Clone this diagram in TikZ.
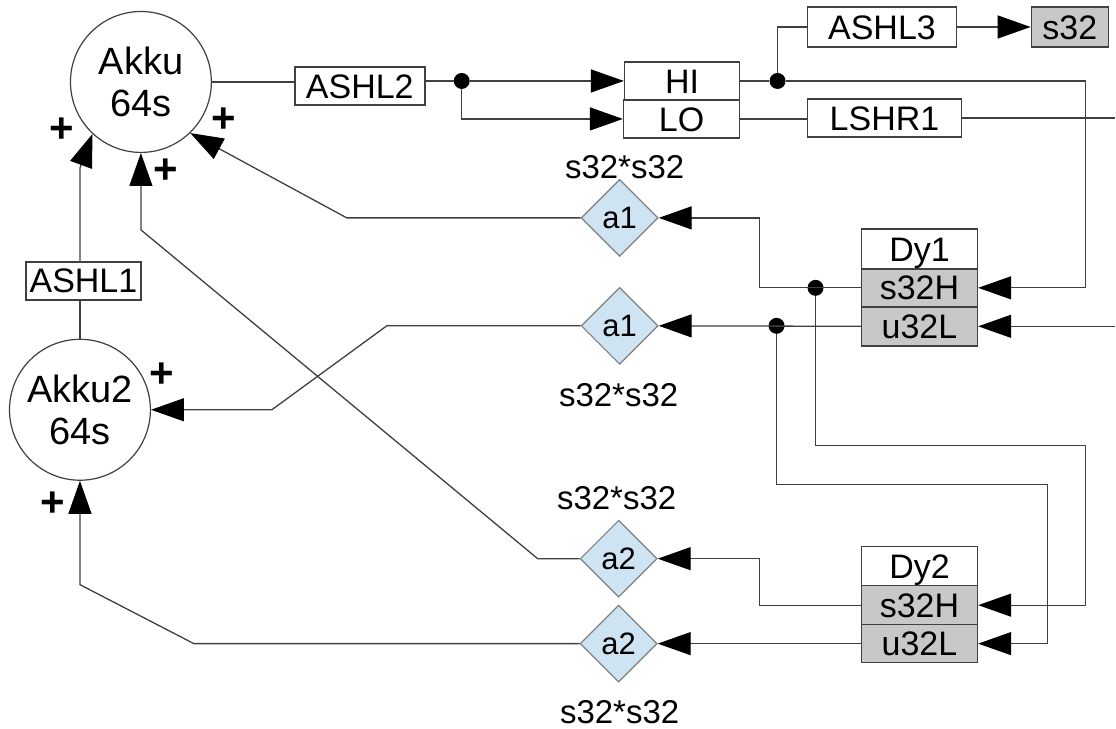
\documentclass[tikz,border=0pt]{standalone}
\usepackage{fontspec}
\setmainfont{Liberation Sans}
\usetikzlibrary{arrows.meta,shapes.geometric}
\definecolor{ln}{HTML}{404040}
\definecolor{bx}{HTML}{C8C8C8}
\definecolor{dm}{HTML}{CFE4F3}
\definecolor{dmb}{HTML}{808080}
\begin{document}
\begin{tikzpicture}[x=1pt,y=-1pt,
  line/.style={draw=ln,line width=1.3pt},
  arr/.style={line,-{Triangle[length=33pt,width=23pt,color=black]}},
  akkunode/.style={circle,draw=ln,line width=1.2pt,minimum size=141pt,inner sep=0pt,align=center,font=\fontsize{38}{42}\selectfont},
  boxnode/.style={rectangle,draw=ln,line width=1.5pt,inner sep=0pt,fill=white,text height=24.3pt,text depth=0pt,font=\fontsize{34}{38}\selectfont},
  graynode/.style={boxnode,fill=bx},
  dia/.style={diamond,draw=dmb,line width=1.2pt,fill=dm,aspect=1,minimum width=77pt,minimum height=77pt,inner sep=0pt,text height=22.2pt,text depth=0pt,font=\fontsize{31}{34}\selectfont},
  lab/.style={inner sep=0pt,text height=23.6pt,text depth=0pt,font=\fontsize{33}{36}\selectfont},
  plus/.style={inner sep=0pt,text height=29.6pt,text depth=0pt,font=\fontsize{42}{44}\selectfont\bfseries},
  dot/.style={circle,fill=black,minimum size=16pt,inner sep=0pt}
]
\fill[white] (0,0) rectangle (1116,729);
% circles
\node[akkunode] (akku) at (141,82) {Akku\\64s};
\node[akkunode] (akku2) at (80,410) {Akku2\\64s};
% boxes
\node[boxnode,minimum width=130pt,minimum height=38pt] (ashl2) at (360,86) {ASHL2};
\node[boxnode,minimum width=115pt,minimum height=38pt] (hi) at (682.5,81) {HI};
\node[boxnode,minimum width=116pt,minimum height=38pt] (lo) at (682,119) {LO};
\node[boxnode,minimum width=149pt,minimum height=40pt] (ashl3) at (882.5,27) {ASHL3};
\node[graynode,minimum width=77pt,minimum height=40pt] (s32) at (1070.5,27) {s32};
\node[boxnode,minimum width=154pt,minimum height=38pt] (lshr) at (885,118) {LSHR1};
\node[boxnode,minimum width=115pt,minimum height=38pt] (ashl1) at (83.5,281) {ASHL1};
% Dy1
\node[boxnode,minimum width=116pt,minimum height=40pt] (dy1) at (920,249) {Dy1};
\node[graynode,minimum width=116pt,minimum height=38pt] (dy1s) at (920,288) {s32H};
\node[graynode,minimum width=116pt,minimum height=39pt] (dy1u) at (920,326.5) {u32L};
% Dy2
\node[boxnode,minimum width=116pt,minimum height=39pt] (dy2) at (920,566.5) {Dy2};
\node[graynode,minimum width=116pt,minimum height=39pt] (dy2s) at (920,605.5) {s32H};
\node[graynode,minimum width=116pt,minimum height=38pt] (dy2u) at (920,644) {u32L};
% diamonds
\node[dia] (a1t) at (620,218) {a1};
\node[dia] (a1b) at (620,326) {a1};
\node[dia] (a2t) at (619,559) {a2};
\node[dia] (a2b) at (619,644) {a2};
% labels
\node[lab] (l1) at (625,167) {s32*s32};
\node[lab] (l2) at (619,395) {s32*s32};
\node[lab] (l3) at (617,498) {s32*s32};
\node[lab] (l4) at (620,712) {s32*s32};
\node[plus] (p1) at (62,128) {+};
\node[plus] (p2) at (224,118) {+};
\node[plus] (p3) at (166,169) {+};
\node[plus] (p4) at (162,373) {+};
\node[plus] (p5) at (53,502) {+};
% junction dots
\node[dot] (d1) at (462,81) {};
\node[dot] (d2) at (778,81) {};
\node[dot] (d3) at (816,288) {};
\node[dot] (d4) at (777,326) {};
% helper coordinates
\coordinate (rx) at (1086,0);
\coordinate (edge) at (1116,0);
\coordinate (k1) at (760,0);
\coordinate (c1) at (1086,446);
\coordinate (c2) at (1048,485);
\coordinate (k3) at (760,559);
\coordinate (b1) at (347,218);
\coordinate (b2) at (387,326);
\coordinate (b3) at (272,410);
\coordinate (b4) at (538,559);
\coordinate (b5) at (141,230);
\coordinate (b6) at (194,644);
\coordinate (b7) at (80,585);
\coordinate (b8) at (80,168);
% connectors
\draw[line] (akku.east) -- (akku.east -| ashl2.west);
\draw[line] (ashl2.east |- d1) -- (d1);
\draw[arr] (d1) -- (hi.west);
\draw[arr] (d1) |- (lo.west);
\draw[line] (hi.east) -- (d2);
\draw[line] (d2) |- (ashl3.west);
\draw[arr] (ashl3.east) -- (s32.west);
\draw[arr] (d2) -| (rx |- dy1s.east) -- (dy1s.east);
\draw[line] (lo.east) -- (lo.east -| lshr.west);
\draw[line] (lshr.east) -- (lshr.east -| edge);
\draw[arr] (edge |- dy1u.east) -- (dy1u.east);
\draw[arr] (dy1s.west) -| (k1 |- a1t.east) -- (a1t.east);
\draw[arr] (dy1u.west) -- (a1b.east);
\draw[arr] (d3) |- (c1) |- (dy2s.east);
\draw[arr] (d4) |- (c2) |- (dy2u.east);
\draw[arr] (dy2s.west) -| (k3) -- (a2t.east);
\draw[arr] (dy2u.west) -- (a2b.east);
\draw[arr] (a1t.west) -- (b1) -- (akku.314);
\draw[arr] (a1b.west) -- (b2) -- (b3) -- (akku2.east);
\draw[arr] (a2t.west) -- (b4) -- (b5) -- (akku.south);
\draw[arr] (a2b.west) -- (b6) -- (b7) -- (akku2.south);
\draw[line] (akku2.north) -- (akku2.north |- ashl1.south);
\draw[arr] (akku2.north |- ashl1.north) -- (b8) -- (akku.227);
\end{tikzpicture}
\end{document}
